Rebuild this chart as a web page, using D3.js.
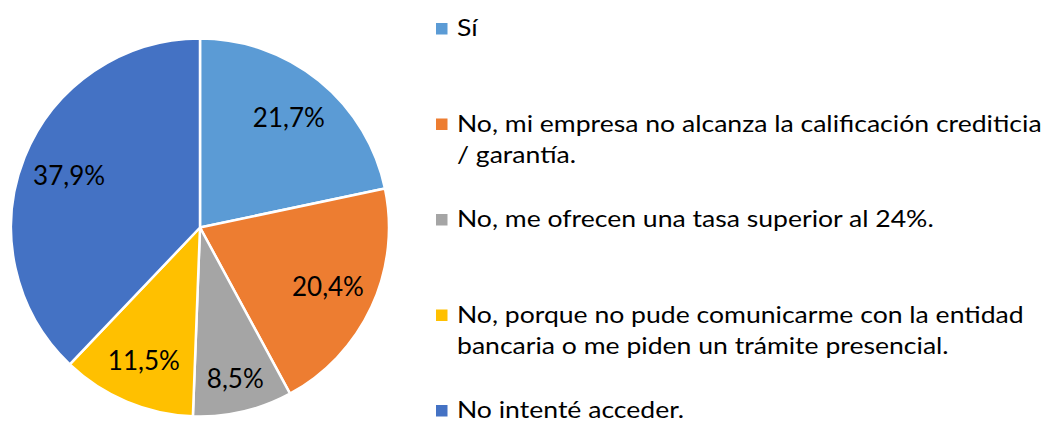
<!DOCTYPE html>
<html>
<head>
<meta charset="utf-8">
<script src="https://cdn.jsdelivr.net/npm/d3@7"></script>
<style>
  body { margin: 0; background: #fff; }
  text { font-family: Lato, "Open Sans", sans-serif; fill: #000; }
</style>
</head>
<body>
<div id="chart"></div>
<script>
const categories = [
  "Sí",
  "No, mi empresa no alcanza la calificación crediticia / garantía.",
  "No, me ofrecen una tasa superior al 24%.",
  "No, porque no pude comunicarme con la entidad bancaria o me piden un trámite presencial.",
  "No intenté acceder."
];
// legend text as wrapped in the picture
const legendLines = [
  ["Sí"],
  ["No, mi empresa no alcanza la calificación crediticia", "/ garantía."],
  ["No, me ofrecen una tasa superior al 24%."],
  ["No, porque no pude comunicarme con la entidad", "bancaria o me piden un trámite presencial."],
  ["No intenté acceder."]
];
const values = [21.7, 20.4, 8.5, 11.5, 37.9];
const colors = ["#5B9BD5", "#ED7D31", "#A5A5A5", "#FFC000", "#4472C4"];

const width = 1051, height = 424;
const cx = 200, cy = 227.5, R = 189;

const svg = d3.select("#chart").append("svg")
  .attr("width", width)
  .attr("height", height);

const data = categories.map((c, i) => ({ cat: c, value: values[i], color: colors[i], lines: legendLines[i] }));

const pie = d3.pie().sort(null).value(d => d.value);
const arcs = pie(data);

const arc = d3.arc().innerRadius(0).outerRadius(R);

const g = svg.append("g").attr("transform", "translate(" + cx + "," + cy + ")");

g.selectAll("path.slice")
  .data(arcs)
  .enter().append("path")
  .attr("class", "slice")
  .attr("d", arc)
  .attr("fill", d => d.data.color)
  .attr("stroke", "#fff")
  .attr("stroke-width", 2.5)
  .attr("stroke-linejoin", "round");

// labels sit inside; narrow slices push them a bit further out
const fmt = v => d3.format(".1f")(v).replace(".", ",") + "%";
g.selectAll("text.lbl")
  .data(arcs)
  .enter().append("text")
  .attr("class", "lbl")
  .attr("transform", d => {
    const span = (d.endAngle - d.startAngle) * 180 / Math.PI;
    const r = 141 + Math.max(0, 45 - span);
    const a = (d.startAngle + d.endAngle) / 2;
    return "translate(" + (r * Math.sin(a)) + "," + (-r * Math.cos(a)) + ")";
  })
  .attr("text-anchor", "middle")
  .attr("dy", "0.36em")
  .style("font-size", "26px")
  .text(d => fmt(d.data.value));

// legend
const legendY = d3.scalePoint().domain(categories).range([36, 418]);
const lineH = 32;
const legend = svg.append("g").attr("class", "legend");

const item = legend.selectAll("g.item")
  .data(data)
  .enter().append("g")
  .attr("class", "item")
  .attr("transform", d => "translate(0," + legendY(d.cat) + ")");

item.append("rect")
  .attr("x", 436)
  .attr("y", -13)
  .attr("width", 11.5)
  .attr("height", 11.5)
  .attr("fill", d => d.color);

const ltext = item.append("text")
  .attr("x", 457)
  .style("font-size", "24px");

ltext.selectAll("tspan")
  .data(d => d.lines)
  .enter().append("tspan")
  .attr("x", 457)
  .attr("y", (d, i) => i * lineH)
  .text(d => d);

// squeeze text horizontally to the width the long line takes in the picture
const probe = ltext.filter((d, i) => i === 1).select("tspan").node();
const natural = probe.getComputedTextLength();
const sx = 585 / natural;
ltext.attr("transform", "translate(457,0) scale(" + sx + ",1) translate(-457,0)");
g.selectAll("text.lbl").each(function () {
  const t = d3.select(this);
  t.attr("transform", t.attr("transform") + " scale(" + Math.min(1, sx) + ",1)");
});
</script>
</body>
</html>
